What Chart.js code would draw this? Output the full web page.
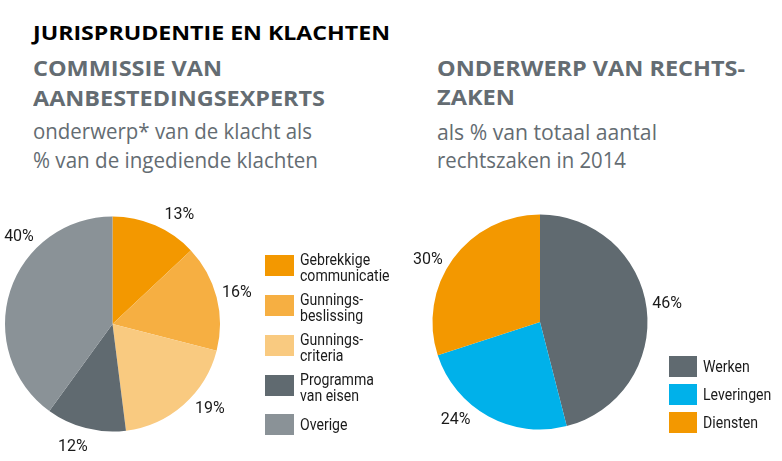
<!DOCTYPE html>
<html><head><meta charset="utf-8">
<script src="https://cdn.jsdelivr.net/npm/chart.js@4/dist/chart.umd.min.js"></script>
<style>
html,body{margin:0;padding:0;background:#fff;}
body{width:782px;height:461px;position:relative;overflow:hidden;font-family:"Open Sans",sans-serif;}
.t{position:absolute;white-space:nowrap;line-height:1;transform-origin:0 0;}
canvas{position:absolute;}
.leg{position:absolute;display:flex;align-items:center;font-family:Roboto,"Open Sans",sans-serif;font-size:16px;line-height:15.5px;color:#1a1a1a;}
.lt{white-space:nowrap;transform:scaleX(0.88);transform-origin:0 50%;}
.sw{flex:none;}
</style></head><body>
<canvas id="c1" width="260" height="271" style="left:0;top:190px"></canvas>
<canvas id="c2" width="382" height="271" style="left:400px;top:190px"></canvas>
<div id="texts"></div>
<div id="legends"></div>
<script>
// ---- data ----
const pie1Labels = [["Gebrekkige","communicatie"],["Gunnings-","beslissing"],["Gunnings-","criteria"],["Programma","van eisen"],["Overige"]];
const pie1Values = [13,16,19,12,40];
const pie1Colors = ["#F39800","#F6AF42","#F9CA80","#606A70","#8A9297"];
const pie2Labels = ["Werken","Leveringen","Diensten"];
const pie2Values = [46,24,30];
const pie2Colors = ["#606A70","#00B1EA","#F39800"];

// ---- titles ----
const GRAY = "#646C72";
const titleLines = [
  {text:"JURISPRUDENTIE EN KLACHTEN", x:33, base:39.5, size:20, w:700, color:"#000", width:357},
  {text:"COMMISSIE VAN", x:33, base:76, size:21, w:700, color:GRAY, width:189},
  {text:"AANBESTEDINGSEXPERTS", x:33, base:106, size:21, w:700, color:GRAY, width:292},
  {text:"onderwerp* van de klacht als", x:33, base:139, size:21, w:400, color:GRAY, width:279},
  {text:"% van de ingediende klachten", x:33, base:168, size:21, w:400, color:GRAY, width:285},
  {text:"ONDERWERP VAN RECHTS-", x:437, base:76, size:21, w:700, color:GRAY, width:308},
  {text:"ZAKEN", x:437, base:105, size:21, w:700, color:GRAY, width:78},
  {text:"als % van totaal aantal", x:437, base:140, size:21, w:400, color:GRAY, width:220},
  {text:"rechtszaken in 2014", x:437, base:168, size:21, w:400, color:GRAY, width:189}
];
const tc = document.getElementById('texts');
titleLines.forEach(l=>{
  const d = document.createElement('div');
  d.className='t';
  d.style.fontSize=l.size+'px'; d.style.fontWeight=l.w; d.style.color=l.color;
  d.style.left=l.x+'px'; d.style.top='0px';
  d.textContent=l.text;
  const m = document.createElement('span');
  m.style.display='inline-block'; m.style.width='0'; m.style.height='0'; m.style.verticalAlign='baseline';
  d.appendChild(m);
  tc.appendChild(d);
  const baseOff = m.offsetTop;
  d.style.top=(l.base-baseOff)+'px';
  const w = d.getBoundingClientRect().width;
  d.style.transform='scaleX('+(l.width/w)+')';
});

// ---- legends ----
const lg = document.getElementById('legends');
function legend(labels, colors, x, tops, sw, sh){
  labels.forEach((lab,i)=>{
    const row=document.createElement('div');
    row.className='leg';
    row.style.left=x+'px'; row.style.top=tops[i]+'px'; row.style.height=sh+'px';
    const s=document.createElement('div'); s.className='sw';
    s.style.width=sw+'px'; s.style.height=sh+'px'; s.style.background=colors[i]; s.style.marginRight='6px';
    row.appendChild(s);
    const t=document.createElement('div');
    t.className='lt';
    const lines = Array.isArray(lab)?lab:[lab];
    if(lines.length>1) t.style.marginTop='4px';
    lines.forEach((ln,j)=>{ if(j) t.appendChild(document.createElement('br')); t.appendChild(document.createTextNode(ln)); });
    row.appendChild(t);
    lg.appendChild(row);
  });
}
legend(pie1Labels, pie1Colors, 265, [255,295,335,375,414], 29, 21);
legend(pie2Labels, pie2Colors, 669, [356,384,412], 28, 21);

// ---- percent label plugin ----
const pctLabels = {
  id:'pctLabels',
  afterDatasetsDraw(chart, args, opts){
    const ctx = chart.ctx;
    const meta = chart.getDatasetMeta(0);
    const ds = chart.data.datasets[0];
    ctx.save();
    ctx.font = opts.font; ctx.fillStyle = opts.color;
    ctx.textAlign='center'; ctx.textBaseline='middle';
    meta.data.forEach((arc,i)=>{
      const p = arc.getProps(['x','y','outerRadius','startAngle','endAngle'], true);
      const a = (opts.angles && opts.angles[i]!=null) ? (opts.angles[i]-90)*Math.PI/180 : (p.startAngle+p.endAngle)/2;
      const d = p.outerRadius + opts.offset;
      ctx.fillText(ds.data[i]+'%', p.x + d*Math.cos(a), p.y + d*Math.sin(a) + 1);
    });
    ctx.restore();
  }
};

function makePie(id, labels, values, colors, padding, angles){
  return new Chart(document.getElementById(id), {
    type:'pie',
    data:{labels:labels, datasets:[{data:values, backgroundColor:colors, borderWidth:0}]},
    options:{
      responsive:false, devicePixelRatio:1, animation:false,
      layout:{padding:padding},
      plugins:{
        legend:{display:false}, tooltip:{enabled:false},
        pctLabels:{font:'16px Roboto', color:'#1a1a1a', offset:21, angles:angles}
      }
    },
    plugins:[pctLabels]
  });
}
makePie('c1', pie1Labels, pie1Values, pie1Colors, {left:5, right:40, top:26.5, bottom:29.5}, [31.4,75.5,130.7,198,313.3]);
makePie('c2', pie2Labels, pie2Values, pie2Colors, {left:32.5, right:134.5, top:24.5, bottom:31.5}, [81.6,221,299.3]);
</script>
</body></html>
